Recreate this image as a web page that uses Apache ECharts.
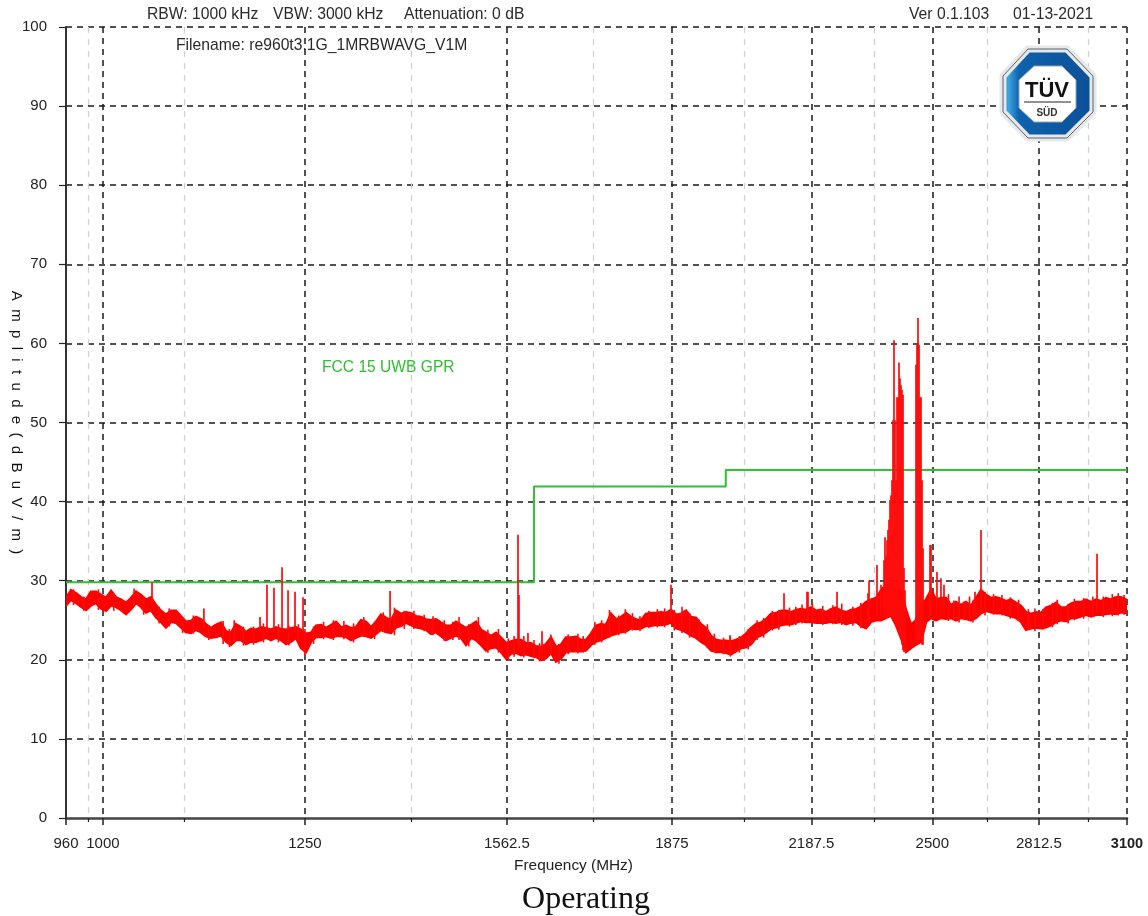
<!DOCTYPE html>
<html><head><meta charset="utf-8">
<style>html,body{margin:0;padding:0;background:#fff}#c{width:1148px;height:916px}</style>
<script src="https://cdn.jsdelivr.net/npm/echarts@6/dist/echarts.min.js"></script>
</head><body><div id="c"></div>
<script>
const majorTicks = [960, 1000, 1250, 1562.5, 1875, 2187.5, 2500, 2812.5, 3100];
const minorTicks = [984.4, 1093.75, 1406.25, 1718.75, 2031.25, 2343.75, 2656.25, 2968.75];
const limitFreq = [960, 1610, 1610, 1990, 1990, 3100];
const limitLevel = [29.8, 29.8, 41.9, 41.9, 44, 44];
const traceFreq = [
960,965.3,970.7,976.1,981.5,986.9,992.3,997.9,1003.4,1009.0,
1014.5,1020.1,1025.8,1031.5,1037.2,1042.9,1048.7,1054.5,1060.3,1066.2,
1072.1,1078.0,1084.0,1090.0,1096.0,1102.1,1108.2,1114.4,1120.5,1126.7,
1133.0,1139.3,1145.6,1151.9,1158.3,1164.7,1171.2,1177.7,1184.2,1190.8,
1197.4,1204.0,1210.7,1217.4,1224.2,1231.0,1237.8,1244.6,1251.5,1258.5,
1265.4,1272.4,1279.5,1286.6,1293.7,1300.9,1308.1,1315.3,1322.6,1329.9,
1337.3,1344.7,1352.2,1359.6,1367.2,1374.8,1382.4,1390.0,1397.7,1405.5,
1413.2,1421.1,1428.9,1436.8,1444.8,1452.8,1460.9,1468.9,1477.1,1485.2,
1493.5,1501.8,1510.1,1518.4,1526.9,1535.3,1543.8,1552.4,1561.0,1569.6,
1578.3,1587.0,1595.8,1604.7,1613.5,1622.5,1631.5,1640.5,1649.6,1658.7,
1667.9,1677.1,1686.4,1695.8,1705.2,1714.6,1724.1,1733.6,1743.3,1752.9,
1762.7,1772.5,1782.3,1792.2,1802.1,1812.1,1822.1,1832.2,1842.4,1852.6,
1862.8,1873.1,1883.5,1893.9,1904.4,1915.0,1925.6,1936.3,1947.0,1957.8,
1968.6,1979.5,1990.5,2001.5,2012.6,2023.8,2035.0,2046.3,2057.6,2069.0,
2080.4,2091.9,2103.5,2115.2,2126.9,2138.7,2150.5,2162.4,2174.4,2186.5,
2198.6,2210.8,2223.0,2235.3,2247.7,2260.2,2272.7,2285.3,2298.0,2310.7,
2323.4,2336.3,2349.2,2362.3,2375.3,2388.5,2401.7,2415.0,2428.4,2441.9,
2455.4,2469.0,2482.7,2496.4,2510.2,2524.1,2538.1,2552.2,2566.3,2580.5,
2594.9,2609.3,2623.7,2638.2,2652.8,2667.5,2682.3,2697.2,2712.1,2727.1,
2742.3,2757.5,2772.7,2788.1,2803.5,2819.1,2834.7,2850.4,2866.2,2882.1,
2898.1,2914.1,2930.2,2946.5,2962.8,2979.2,2995.7,3012.3,3029.0,3045.8,
3062.7,3079.6,3096.7];
const traceHigh = [
27.8,28.8,28.4,27.9,27.6,28.6,28.6,28.2,27.8,28.7,
27.9,27.6,27.2,27.8,28.6,28.2,27.6,27.9,26.9,26.2,
25.7,26.2,26.2,25.5,24.8,24.9,25.4,25.1,24.5,24.0,
24.4,24.7,23.6,23.4,24.5,24.1,23.5,23.9,23.8,24.1,
24.0,23.8,24.1,23.9,23.8,24.0,24.1,23.8,23.3,23.4,
24.3,24.4,24.0,24.4,24.8,24.1,24.3,24.0,24.1,25.0,
24.8,24.1,24.8,25.7,25.3,25.0,26.2,25.8,26.0,25.9,
25.5,25.4,25.1,25.0,25.1,24.7,24.3,24.3,24.8,24.4,
24.0,24.4,24.8,23.8,23.4,23.0,23.4,22.8,22.1,22.3,
22.5,22.5,22.1,22.1,21.7,21.6,22.0,22.8,21.6,21.9,
22.8,22.8,22.9,22.5,22.5,23.3,24.3,24.5,24.4,25.8,
25.1,25.4,25.9,25.4,25.1,25.0,25.8,25.9,25.9,26.0,
25.9,26.3,25.7,25.8,26.2,25.4,25.3,24.5,24.0,23.0,
22.5,22.4,22.4,22.3,22.5,22.8,23.3,24.0,24.5,24.7,
25.1,25.8,25.9,26.2,26.2,26.0,26.3,26.4,26.3,26.6,
26.2,26.3,26.0,26.4,26.6,26.2,26.0,26.3,26.4,26.7,
27.3,27.6,27.8,28.8,29.5,29.5,28.8,28.8,26.3,24.4,
25.0,26.9,27.6,28.8,27.6,27.8,27.8,26.9,27.3,26.9,
27.3,26.8,27.8,28.8,28.2,27.8,27.9,27.7,27.4,27.6,
27.2,26.8,26.0,25.8,26.0,25.9,26.6,26.8,27.2,26.6,
26.6,27.1,27.3,27.3,27.6,27.3,27.6,27.4,27.8,27.6,
27.9,27.9,27.6];
const traceLow = [
26.9,27.6,27.2,26.7,26.3,26.9,27.2,26.5,26.2,26.9,
26.7,26.3,25.8,26.4,27.2,26.7,26.0,26.3,25.4,24.8,
24.1,24.8,24.7,24.1,23.5,23.4,23.8,23.5,23.0,22.8,
22.9,23.1,22.3,21.9,22.5,22.5,22.0,22.3,22.3,22.5,
22.8,22.5,22.8,22.5,22.0,22.3,22.8,21.5,21.0,22.3,
22.9,22.9,23.0,22.8,23.0,23.0,22.9,22.5,22.8,23.1,
23.0,22.8,23.3,23.8,23.5,23.4,24.1,24.3,24.7,24.4,
24.1,24.0,23.8,23.3,23.5,23.0,22.5,22.8,23.1,22.8,
21.9,22.8,22.5,21.9,21.2,21.5,21.6,21.0,20.2,20.8,
20.9,20.6,20.7,20.5,20.4,20.0,20.2,20.9,19.8,20.2,
21.0,21.1,21.1,21.1,21.2,21.9,22.3,22.5,22.8,23.1,
23.3,23.5,23.6,24.0,23.9,24.0,24.3,24.3,24.4,24.4,
24.5,24.7,24.0,23.8,23.5,23.1,22.8,22.3,21.9,21.2,
21.0,21.0,20.9,20.7,21.1,21.5,21.6,22.0,22.8,23.1,
23.5,24.0,24.1,24.4,24.5,24.5,24.7,24.9,24.8,24.8,
24.7,24.7,24.7,24.8,24.7,24.8,24.5,24.7,24.8,24.3,
24.0,24.8,25.0,25.0,25.3,25.6,24.4,22.8,21.0,21.5,
21.9,22.3,24.8,25.3,25.0,25.3,25.2,25.3,25.0,25.3,
25.2,25.0,25.3,25.9,26.2,26.0,25.9,25.9,25.7,25.5,
25.3,24.8,23.8,24.0,24.1,24.0,24.1,24.4,24.8,25.0,
24.9,25.3,25.3,25.5,25.7,25.5,25.7,25.7,25.8,25.9,
25.8,26.0,25.9];
const spikeFreq = [
1055.7,1118.0,1189.5,1198.7,1208.0,1218.8,1226.9,1236.4,1247.4,1373.3,
1581.8,1583.5,1599.3,1624.3,1873.1,1999.3,2122.2,2176.8,2179.2,2250.2,
2328.6,2331.2,2351.8,2362.3,
2370.1,2372.7,2375.3,2378.0,2380.6,2383.2,2385.9,2388.5,2391.1,2393.8,2396.4,2399.0,2401.7,
2404.4,2407.0,2409.7,2412.3,2415.0,2417.7,2420.4,2423.0,2425.7,
2455.4,2458.1,2460.8,2463.6,2466.3,2469.0,2471.8,2474.5,
2493.7,2496.4,2513.0,2524.1,2532.5,2620.8,2638.2,2999.0];
const spikeLow = [
27.0,24.0,23.5,23.5,23.5,23.5,23.5,23.5,23.5,24.0,
22.0,21.5,21.5,21.0,25.0,21.5,25.0,25.0,25.0,25.0,
25.0,25.0,25.5,25.5,
25.3,25.3,25.3,25.3,25.3,25.5,25.5,25.5,25.5,25.0,25.0,25.0,24.4,
24.0,24.0,23.5,23.0,22.8,21.9,21.2,21.0,22.0,
22.5,22.5,22.8,22.5,22.5,22.5,21.9,21.9,
25.5,25.5,25.5,25.5,25.5,25.5,26.0,26.0];
const spikeTop = [
29.8,26.5,25.4,29.5,29.1,31.7,28.8,28.6,27.9,28.7,
35.8,28.2,23.4,23.6,29.5,23.1,28.4,28.6,28.6,28.6,
28.4,30.0,32.0,29.5,
32.6,35.5,33.2,35.1,36.4,37.7,40.2,40.8,42.7,50.3,60.4,50.3,42.7,
53.2,53.2,57.6,55.6,54.7,54.1,53.5,31.6,28.8,
57.3,59.8,63.2,59.8,53.2,53.2,42.7,34.1,
34.5,34.5,31.1,30.3,29.5,28.6,36.4,33.4];
const hairFreq = [
968,979,995,1012,1035,1046,1064,1076,1092,1105,1124,1142,1150,1156,1168,1181,1194,1214,1228,1241,1250,
1262,1276,1290,1305,1319,1334,1350,1363,1380,1395,1410,1426,1440,1458,1472,1482,1498,1514,1530,1548,1565,1575,1592,1610,1620,1640,1655,1672,1690,1700,
1722,1735,1750,1768,1781,1795,1810,1828,1845,1860,1880,1896,1912,1932,1950,1965,1985,2000,2020,2040,2060,2075,2095,2110,2135,2150,2165,2190,2215,2240,2262,2290,2310,
2545,2560,2575,2590,2605,2615,2650,2675,2700,2725,2750,2780,2800,2825,2855,2870,2905,2925,2955,2985,3020,3050,3070,3090];
const hairLow = [
26.9,26.2,26.3,26.2,26.8,25.7,24.6,24.2,23.4,23.3,22.5,22.0,21.6,22.2,21.8,21.9,22.2,22.2,21.8,22.3,20.5,
22.0,22.6,22.5,22.6,22.2,22.9,22.6,23.5,23.1,23.9,23.9,23.6,23.1,22.4,22.5,22.5,21.7,22.1,20.9,20.9,19.9,20.4,20.3,20.2,19.8,20.6,19.5,20.7,20.8,20.9,
21.9,22.2,22.8,23.1,23.3,23.7,23.6,24.0,24.1,24.1,23.7,23.4,22.8,22.5,21.5,21.0,20.7,20.4,20.9,21.3,22.5,22.8,23.7,23.8,24.2,24.4,24.6,24.5,24.4,24.5,24.4,24.3,24.0,
24.9,25.0,24.7,25.0,24.9,24.7,25.6,25.7,25.6,25.2,24.9,23.9,23.6,23.8,24.1,24.5,24.6,25.0,25.2,25.4,25.4,25.5,25.6,25.7];
const hairHigh = [
28.9,28.0,28.9,28.3,29.0,28.0,26.7,26.5,25.4,25.6,24.4,24.9,23.9,25.0,24.2,24.2,24.6,24.5,24.3,24.5,23.9,
24.2,24.8,25.0,24.9,24.6,25.4,24.8,26.0,26.6,26.2,26.2,25.7,25.5,25.0,24.8,25.4,24.5,25.4,23.8,23.9,22.7,23.0,23.0,22.5,22.1,23.2,22.0,23.2,23.3,23.0,
24.8,25.0,26.3,25.6,26.4,25.9,25.5,26.2,26.4,26.5,26.3,26.7,25.9,25.1,24.5,23.3,22.8,22.9,23.0,23.9,25.0,25.3,26.2,26.3,26.6,26.7,27.0,27.1,26.8,26.9,27.1,26.7,27.2,
28.3,27.5,28.0,27.4,28.0,27.5,28.6,28.3,28.2,27.9,27.6,26.4,26.5,26.4,27.2,27.6,27.1,27.7,27.8,28.0,28.0,28.3,28.4,28.2];

const labelFont = '"Liberation Sans", Arial, sans-serif';
const hdr = (t, x, y) => ({type:'text', x, y, style:{text:t, font:'15.7px '+labelFont, fill:'#2a2a2a', textVerticalAlign:'middle'}, z:20});
const bandData = traceFreq.map((f,i)=>[f, traceLow[i], traceHigh[i]]);
const spikeData = spikeFreq.map((f,i)=>[f, spikeLow[i], spikeTop[i]]);
const hairData = hairFreq.map((f,i)=>[f, hairLow[i], hairHigh[i]]);
const limitData = limitFreq.map((f,i)=>[f, limitLevel[i]]);
const vLine = width => (params, api) => {
  const a = api.coord([api.value(0), api.value(1)]);
  const b = api.coord([api.value(0), api.value(2)]);
  return {type:'line', shape:{x1:a[0], y1:a[1], x2:b[0], y2:b[1]}, style:{stroke:'#ff0a0a', lineWidth:width}};
};

const chart = echarts.init(document.getElementById('c'), null, {renderer:'canvas', width:1148, height:916});
const common = {type:'log', logBase:10, min:960, max:3100, position:'bottom', axisPointer:{show:false}};
chart.setOption({
  animation:false,
  backgroundColor:'#fff',
  grid:{left:66, top:27, width:1061, height:791, containLabel:false, outerBoundsMode:'none'},
  xAxis:[
    Object.assign({}, common, {
      axisLine:{show:true, onZero:false, lineStyle:{color:'#444', width:2.5}},
      axisTick:{show:true, length:7, customValues:majorTicks, lineStyle:{color:'#222', width:1.5}},
      axisLabel:{show:true, customValues:majorTicks, margin:18, hideOverlap:false, showMinLabel:true, showMaxLabel:true,
        fontFamily:labelFont, fontSize:15, color:'#222',
        formatter:v=>{const n=Number(Number(v).toFixed(1)); return n===3100?'{b|3100}':String(n);},
        rich:{b:{fontWeight:'bold', fontFamily:labelFont, fontSize:14.5, color:'#222'}}},
      splitLine:{show:true, showMinLine:false, showMaxLine:true, lineStyle:{color:'#1a1a1a', width:1.5, type:[6,5]}},
      minorTick:{show:false}, minorSplitLine:{show:false}
    }),
    Object.assign({}, common, {
      axisLine:{show:false},
      axisTick:{show:true, length:4, customValues:minorTicks, lineStyle:{color:'#222', width:1.2}},
      axisLabel:{show:false},
      splitLine:{show:true, lineStyle:{color:'#cfcfcf', width:1.2, type:[6,6]}}
    })
  ],
  yAxis:{type:'value', min:0, max:100, interval:10,
    name:'A  m  p  l  i  t  u  d  e  (  d  B  u  V  /  m  )', nameLocation:'middle', nameRotate:-90, nameGap:42, nameMoveOverlap:false,
    nameTextStyle:{fontFamily:labelFont, fontSize:15, color:'#111'},
    axisLine:{show:true, onZero:false, lineStyle:{color:'#333', width:2}},
    axisTick:{show:true, length:7, lineStyle:{color:'#222', width:1.2}},
    axisLabel:{margin:19, fontFamily:labelFont, fontSize:15, color:'#222'},
    splitLine:{show:true, showMinLine:false, showMaxLine:true, lineStyle:{color:'#1a1a1a', width:1.5, type:[6,5]}}
  },
  series:[
    {type:'line', name:'FCC 15 UWB GPR', data:limitData, xAxisIndex:0, symbol:'none', silent:true, z:3,
     lineStyle:{color:'#2cc52c', width:2}},
    {type:'custom', name:'Trace', data:bandData, xAxisIndex:0, z:4, clip:true, silent:true,
     encode:{x:0, y:[1,2]},
     renderItem:(params, api)=>{
       if(params.dataIndex!==0) return null;
       const up = bandData.map(d=>api.coord([d[0], d[2]]));
       const dn = bandData.map(d=>api.coord([d[0], d[1]])).reverse();
       return {type:'polygon', shape:{points:up.concat(dn)}, style:{fill:'#ff0000', stroke:'#ff0000', lineWidth:2.6, lineJoin:'miter'}};
     }},
    {type:'custom', name:'Trace fine', data:hairData, xAxisIndex:0, z:5, clip:true, silent:true,
     encode:{x:0, y:[1,2]}, renderItem:vLine(1.6)},
    {type:'custom', name:'Spikes', data:spikeData, xAxisIndex:0, z:5, clip:true, silent:true,
     encode:{x:0, y:[1,2]}, renderItem:vLine(1.7)}
  ],
  graphic:[
    hdr('RBW: 1000 kHz', 147, 14.5), hdr('VBW: 3000 kHz', 273, 14.5), hdr('Attenuation: 0 dB', 404, 14.5),
    hdr('Ver 0.1.103', 909, 14.5), hdr('01-13-2021', 1013, 14.5),
    hdr('Filename: re960t3.1G_1MRBWAVG_V1M', 176, 45.5),
    {type:'text', x:322, y:367.5, z:20, style:{text:'FCC 15 UWB GPR', font:'15.6px '+labelFont, fill:'#2fbf2f', textVerticalAlign:'middle'}},
    {type:'text', x:573.5, y:866, z:20, style:{text:'Frequency (MHz)', font:'15.4px '+labelFont, fill:'#222', textAlign:'center', textVerticalAlign:'middle'}},
    {type:'text', x:586, y:900, z:20, style:{text:'Operating', font:'32px "Liberation Serif", "Times New Roman", serif', fill:'#111', textAlign:'center', textVerticalAlign:'middle'}},
    {type:'polygon', z:21, shape:{points:[[1028,49],[1067,49],[1093,76],[1093,112],[1067,138],[1028,138],[1003,112],[1003,76]]},
     style:{fill:new echarts.graphic.LinearGradient(0,0,1,0,[{offset:0,color:'#0f5ea8'},{offset:0.09,color:'#3ba6e0'},{offset:0.2,color:'#0f62ad'},{offset:1,color:'#0b4f98'}]),
            stroke:'#e6e8ea', lineWidth:7, lineJoin:'round'}},
    {type:'polygon', z:22, shape:{points:[[1028,49],[1067,49],[1093,76],[1093,112],[1067,138],[1028,138],[1003,112],[1003,76]]},
     style:{fill:'none', stroke:'#5a6470', lineWidth:1}},
    {type:'polygon', z:22, shape:{points:[[1034,66],[1062,66],[1076,80],[1076,108],[1062,122],[1034,122],[1019,108],[1019,80]]},
     style:{fill:'#fff', stroke:'#9aa2aa', lineWidth:1}},
    {type:'text', x:1047, y:91, z:23, style:{text:'TÜV', font:'bold 22px '+labelFont, fill:'#111', textAlign:'center', textVerticalAlign:'middle'}},
    {type:'line', z:23, shape:{x1:1024, y1:102, x2:1071, y2:102}, style:{stroke:'#222', lineWidth:1}},
    {type:'text', x:1047, y:113, z:23, style:{text:'SÜD', font:'bold 10px '+labelFont, fill:'#333', textAlign:'center', textVerticalAlign:'middle'}}
  ]
});
</script></body></html>
